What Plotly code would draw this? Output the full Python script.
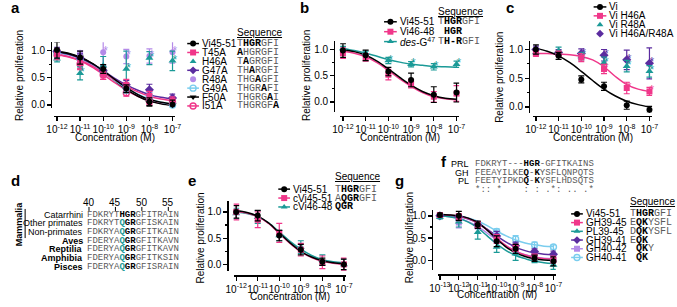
import re
import plotly.graph_objects as go

W, H = 677, 307
BLACK = '#000000'; PINK = '#F0378A'; TEAL = '#1B9A97'; PURPLE = '#5B2C9F'
LPURPLE = '#B48AE8'; LBLUE = '#7ACDEE'; GRAY = '#5a5a5a'
SANS = 'Arial, Liberation Sans, sans-serif'
MONO = 'Liberation Mono, DejaVu Sans Mono, monospace'

# ---------------- data ----------------
dec6 = [-12, -11, -10, -9, -8, -7]
fit6 = [-12, -11.5, -11, -10.5, -10, -9.5, -9, -8.5, -8, -7.5, -7]
dec7 = [-13, -12, -11, -10, -9, -8, -7]
fit7 = [-13, -12.5, -12, -11.5, -11, -10.5, -10, -9.5, -9, -8.5, -8, -7.5, -7]
xticks6 = ['10<sup>-12</sup>', '10<sup>-11</sup>', '10<sup>-10</sup>', '10<sup>-9</sup>', '10<sup>-8</sup>', '10<sup>-7</sup>']
xticks7 = ['10<sup>-13</sup>'] + xticks6

# panel a
a_names = ['Vi45-51', 'T45A', 'H46A', 'G47A', 'R48A', 'G49A', 'F50A', 'I51A']
a_seqs = ['T[HGR]GFI', '[A]HGRGFI', 'T[A]GRGFI', 'TH[A]RGFI', 'THG[A]GFI', 'THGR[A]FI', 'THGRG[A]I', 'THGRGF[A]']
a_vi = [1.01, 0.87, 0.66, 0.30, 0.06, 0.01]; a_vi_e = [0.15, 0.12, 0.08, 0.07, 0.07, 0.08]
a_t45 = [0.93, 0.77, 0.57, 0.37, 0.17, 0.08]; a_t45_e = [0.10, 0.12, 0.10, 0.10, 0.08, 0.07]
a_h46 = [0.85, 0.58, 0.72, 0.66, 0.86, 0.81]; a_h46_e = [0.06, 0.12, 0.17, 0.33, 0.12, 0.18]
a_g47 = [0.98, 0.86, 0.63, 0.37, 0.28, 0.13]; a_g47_e = [0.08, 0.08, 0.08, 0.08, 0.10, 0.07]
a_r48 = [0.96, 0.96, 0.97, 0.89, 0.90, 0.97]; a_r48_e = [0.08, 0.04, 0.24, 0.13, 0.13, 0.20]
a_g49 = [0.95, 0.84, 0.62, 0.30, 0.15, 0.00]; a_g49_e = [0.08, 0.08, 0.08, 0.08, 0.08, 0.10]
a_f50 = [0.98, 0.87, 0.63, 0.28, 0.04, 0.00]; a_f50_e = [0.06, 0.06, 0.06, 0.06, 0.06, 0.06]
a_i51 = [0.92, 0.75, 0.55, 0.22, 0.07, 0.05]; a_i51_e = [0.08, 0.08, 0.08, 0.06, 0.06, 0.06]
a_vi_fit = [0.98, 0.94, 0.87, 0.77, 0.63, 0.47, 0.32, 0.19, 0.10, 0.05, 0.02]
a_t45_fit = [0.93, 0.89, 0.82, 0.72, 0.59, 0.46, 0.34, 0.24, 0.16, 0.11, 0.08]
a_g47_fit = [0.97, 0.93, 0.86, 0.76, 0.63, 0.49, 0.37, 0.27, 0.19, 0.14, 0.11]
a_g49_fit = [0.96, 0.92, 0.85, 0.74, 0.60, 0.45, 0.31, 0.20, 0.11, 0.05, 0.01]
a_f50_fit = [0.98, 0.95, 0.88, 0.77, 0.62, 0.45, 0.29, 0.16, 0.07, 0.02, -0.01]
a_i51_fit = [0.92, 0.88, 0.81, 0.70, 0.56, 0.41, 0.27, 0.16, 0.08, 0.03, 0.00]
a_h46_sig = [-11, -9, -8, -7]
a_r48_sig = [-10, -9, -8, -7]

# panel b
b_names = ['Vi45-51', 'Vi46-48', '<i>des</i>-G<sup>47</sup>']
b_seqs = ['T[HGR]GFI', ' [HGR]', 'T[H-R]GFI']
b_vi = [0.98, 0.89, 0.58, 0.42, 0.14, 0.18]; b_vi_e = [0.13, 0.10, 0.08, 0.13, 0.15, 0.18]
b_46 = [0.93, 0.85, 0.52, 0.35, 0.10, 0.16]; b_46_e = [0.10, 0.07, 0.10, 0.08, 0.10, 0.15]
b_des = [1.02, 0.93, 0.79, 0.72, 0.67, 0.72]; b_des_e = [0.04, 0.04, 0.06, 0.05, 0.06, 0.06]
b_vi_fit = [0.99, 0.96, 0.89, 0.78, 0.63, 0.47, 0.32, 0.20, 0.12, 0.07, 0.05]
b_46_fit = [0.96, 0.93, 0.86, 0.75, 0.60, 0.44, 0.30, 0.18, 0.10, 0.06, 0.04]
b_des_fit = [1.02, 0.98, 0.93, 0.87, 0.81, 0.76, 0.72, 0.70, 0.68, 0.67, 0.66]
b_des_sig = [-10, -9, -8, -7]

# panel c
c_names = ['Vi', 'Vi H46A', 'Vi R48A', 'Vi H46A/R48A']
c_vi = [1.00, 0.89, 0.48, 0.36, 0.03, -0.05]; c_vi_e = [0.08, 0.06, 0.06, 0.07, 0.07, 0.06]
c_h46 = [0.93, 0.93, 0.86, 0.66, 0.33, 0.27]; c_h46_e = [0.05, 0.04, 0.07, 0.08, 0.10, 0.07]
c_r48 = [0.95, 0.98, 0.88, 0.77, 0.71, 0.62]; c_r48_e = [0.05, 0.06, 0.06, 0.10, 0.10, 0.10]
c_dbl = [1.00, 0.95, 0.93, 0.90, 0.82, 0.76]; c_dbl_e = [0.06, 0.05, 0.08, 0.10, 0.17, 0.27]
c_vi_fit = [1.02, 0.97, 0.89, 0.77, 0.62, 0.46, 0.31, 0.19, 0.10, 0.04, 0.00]
c_h46_fit = [0.93, 0.93, 0.92, 0.91, 0.88, 0.82, 0.70, 0.53, 0.39, 0.31, 0.27]
c_sig = [-10, -9, -8, -7]

# panel d
d_names = ['Catarrhini', 'Other primates', 'Non-primates', '<b>Aves</b>', '<b>Reptilia</b>', '<b>Amphibia</b>', '<b>Pisces</b>']
d_seqs = ['FDKRYT[HGR]GFITRAIN', 'FDKRYT{Q}[GR]GFISKAIN', 'FDKRYA{Q}[GR]GFITKAIN', 'FDERYA{Q}[GR]GFITKAVN',
          'FDERYA{Q}[GR]GFITKAVN', 'FDERYA{Q}[GR]GFITKSIN', 'FDERYA{Q}[GR]GFISRAIN']
d_ruler = [40, 45, 50, 55]
d_first_residue = 40

# panel e
e_names = ['Vi45-51', 'cVi45-51', 'cVi46-48']
e_seqs = ['T[HGR]GFI', 'A[QGR]GFI', '[QGR]']
e_vi = [1.00, 0.93, 0.55, 0.28, 0.05, 0.00]; e_vi_e = [0.12, 0.10, 0.10, 0.10, 0.07, 0.10]
e_cvi = [1.00, 0.85, 0.60, 0.28, 0.04, 0.00]; e_cvi_e = [0.15, 0.15, 0.18, 0.12, 0.12, 0.12]
e_c46 = [0.97, 0.90, 0.55, 0.33, 0.08, 0.00]; e_c46_e = [0.10, 0.12, 0.10, 0.12, 0.10, 0.10]
e_vi_fit = [1.02, 0.99, 0.92, 0.79, 0.60, 0.41, 0.25, 0.14, 0.07, 0.03, 0.01]
e_cvi_fit = [1.01, 0.98, 0.91, 0.78, 0.59, 0.40, 0.24, 0.13, 0.06, 0.02, 0.00]
e_c46_fit = [1.00, 0.97, 0.91, 0.79, 0.62, 0.44, 0.29, 0.17, 0.09, 0.05, 0.03]

# panel f
f_names = ['PRL', 'GH', 'PL']
f_seqs = ['FDKRYT---[HGR]-GFITKAINS', 'FEEAYILKE[Q]-[K]YSFLQNPQTS', 'FEETYIPKD[Q]-[K]YSFLHDSQTS']
f_cons = '*:: *    : : .*: .. .*'

# panel g
g_names = ['Vi45-51', 'GH39-45', 'PL39-45', 'GH39-41', 'GH40-42', 'GH40-41']
g_seqs = ['T[HGR]GFI', 'E[QK]YSFL', 'D[QK]YSFL', 'E[QK]', ' [QK]Y', ' [QK]']
g_vi = [1.02, 1.00, 0.80, 0.43, 0.26, 0.05, -0.02]; g_vi_e = [0.04, 0.10, 0.08, 0.12, 0.10, 0.07, 0.10]
g_gh3945 = [1.02, 0.97, 0.80, 0.48, 0.28, 0.08, 0.02]; g_gh3945_e = [0.03, 0.08, 0.07, 0.10, 0.08, 0.06, 0.08]
g_pl = [0.97, 0.87, 0.63, 0.30, 0.15, 0.03, -0.10]; g_pl_e = [0.04, 0.12, 0.15, 0.12, 0.15, 0.08, 0.10]
g_gh3941 = [1.00, 0.98, 0.80, 0.55, 0.33, 0.20, 0.14]; g_gh3941_e = [0.03, 0.05, 0.06, 0.10, 0.08, 0.06, 0.07]
g_gh4042 = [1.00, 0.85, 0.77, 0.50, 0.27, 0.12, 0.02]; g_gh4042_e = [0.05, 0.12, 0.06, 0.10, 0.10, 0.06, 0.07]
g_gh4041 = [1.00, 0.93, 0.80, 0.65, 0.48, 0.35, 0.30]; g_gh4041_e = [0.03, 0.05, 0.05, 0.06, 0.08, 0.06, 0.05]
g_vi_fit = [1.03, 1.02, 1.00, 0.95, 0.85, 0.68, 0.48, 0.30, 0.17, 0.09, 0.04, 0.01, 0.00]
g_gh3945_fit = [1.03, 1.02, 0.99, 0.94, 0.84, 0.68, 0.50, 0.33, 0.20, 0.12, 0.07, 0.04, 0.03]
g_pl_fit = [1.00, 0.98, 0.94, 0.86, 0.73, 0.55, 0.37, 0.22, 0.11, 0.04, -0.02, -0.05, -0.07]
g_gh3941_fit = [1.02, 1.01, 0.98, 0.93, 0.84, 0.70, 0.55, 0.41, 0.30, 0.22, 0.17, 0.14, 0.13]
g_gh4042_fit = [1.00, 0.98, 0.94, 0.87, 0.76, 0.61, 0.46, 0.32, 0.21, 0.13, 0.08, 0.05, 0.04]
g_gh4041_fit = [1.02, 1.01, 0.99, 0.95, 0.88, 0.78, 0.66, 0.55, 0.46, 0.39, 0.35, 0.32, 0.31]

# ---------------- helpers ----------------
def PX(x):
    return x / W


def PY(y):
    return 1 - y / H


fig = go.Figure()
annotations = []
shapes = []
layout_axes = {}


def seq_html(s):
    out = []
    for m in re.finditer(r'\[([^\]]*)\]|\{([^}]*)\}|([^\[\{]+)', s):
        b, t, n = m.groups()
        if b is not None:
            out.append('<b>' + b.replace(' ', '\u00a0') + '</b>')
        elif t is not None:
            out.append('<span style="color:%s"><b>%s</b></span>' % (TEAL, t))
        else:
            out.append('<span style="color:%s">%s</span>' % (GRAY, n.replace(' ', '\u00a0')))
    return ''.join(out)


def ann(text, x, y, size=10, xanchor='left', yanchor='middle', family=SANS, color=BLACK, angle=0, **kw):
    font = dict(size=size, family=family, color=color)
    font.update(kw.pop('font_extra', {}))
    annotations.append(dict(text=text, x=PX(x), y=PY(y), xref='paper', yref='paper', showarrow=False,
                            xanchor=xanchor, yanchor=yanchor, font=font, textangle=angle,
                            borderpad=0, **kw))


def panel(n, xlo, xhi, xfirst, xlast, y0, y1, yax, xax, yr, ticktext):
    ppd = (xlast - xfirst) / (xhi - xlo)
    pad = 0.12
    ppu = y0 - y1
    ybot = y0 - yr[0] * ppu
    ytop = y0 - yr[1] * ppu
    common = dict(showline=True, linecolor=BLACK, linewidth=1.3, ticks='outside', tickcolor=BLACK,
                  tickwidth=1.3, ticklen=4, showgrid=False, zeroline=False,
                  tickfont=dict(size=10, family=SANS, color=BLACK), anchor='free', tickangle=0)
    layout_axes['xaxis%d' % n] = dict(common, domain=[PX(xfirst - pad * ppd), PX(xlast + pad * ppd)],
                                      range=[xlo - pad, xhi + pad], position=PY(xax),
                                      tickvals=list(range(xlo, xhi + 1)), ticktext=ticktext)
    layout_axes['yaxis%d' % n] = dict(common, domain=[PY(ybot), PY(ytop)], range=yr, position=PX(yax),
                                      tickvals=[0, 0.5, 1.0], ticktext=['0.0', '0.5', '1.0'],
                                      minor=dict(tickvals=[0.25, 0.75], ticklen=2, ticks='outside',
                                                 tickcolor=BLACK, tickwidth=1.2))


def series(n, x, y, err, color, symbol, size=6):
    open_ = symbol.endswith('-open')
    fig.add_trace(go.Scatter(x=x, y=y, xaxis='x%d' % n, yaxis='y%d' % n, mode='markers', cliponaxis=False,
                             marker=dict(symbol=symbol, size=size, color=color,
                                         line=dict(width=1.4 if open_ else 0, color=color)),
                             error_y=dict(type='data', array=err, color=color, thickness=1.2, width=3),
                             showlegend=False))


def curve(n, x, y, color):
    fig.add_trace(go.Scatter(x=x, y=y, xaxis='x%d' % n, yaxis='y%d' % n, mode='lines',
                             line=dict(color=color, width=1.5, shape='spline', smoothing=1.0),
                             showlegend=False, hoverinfo='skip'))


def stars(n, xs, xall, yall, color):
    yy = [yall[xall.index(v)] for v in xs]
    fig.add_trace(go.Scatter(x=xs, y=yy, xaxis='x%d' % n, yaxis='y%d' % n, mode='text', text=['*'] * len(xs),
                             textposition='middle right', cliponaxis=False,
                             textfont=dict(size=12, color=color, family=SANS), showlegend=False))


OV = 9  # overlay axis in pixel units for legend glyphs
layout_axes['xaxis%d' % OV] = dict(domain=[0, 1], range=[0, W], visible=False, fixedrange=True)
layout_axes['yaxis%d' % OV] = dict(domain=[0, 1], range=[H, 0], visible=False, fixedrange=True)


def glyph(xl, xr, y, color, symbol, line=True, size=6):
    if line:
        fig.add_trace(go.Scatter(x=[xl, xr], y=[y, y], xaxis='x%d' % OV, yaxis='y%d' % OV, mode='lines',
                                 line=dict(color=color, width=1.5), showlegend=False, hoverinfo='skip'))
    open_ = symbol.endswith('-open')
    fig.add_trace(go.Scatter(x=[(xl + xr) / 2], y=[y], xaxis='x%d' % OV, yaxis='y%d' % OV, mode='markers',
                             marker=dict(symbol=symbol, size=size, color=color,
                                         line=dict(width=1.4 if open_ else 0, color=color)),
                             showlegend=False, hoverinfo='skip'))


def legend_block(names, seqs, styles, rows, gx0, gx1, tx, sx, head_y, size=10, mono=10):
    for i, nm in enumerate(names):
        color, symbol, hasline = styles[i]
        glyph(gx0, gx1, rows[i], color, symbol, hasline)
        ann(nm, tx, rows[i], size=size)
        if seqs is not None:
            ann(seq_html(seqs[i]), sx, rows[i], size=mono, family=MONO)
    if seqs is not None:
        ann('Sequence', sx, head_y, size=10, font_extra=dict(lineposition='under'))


def ytitle(x, y):
    ann('Relative proliferation', x, y, size=10, xanchor='center', angle=-90)


def xtitle(x, y):
    ann('Concentration (M)', x, y, size=10, xanchor='center')


# ---------------- panel a ----------------
panel(1, -12, -7, 50, 168, 106, 51, 44, 117, [-0.05, 1.15], xticks6)
a_style = [(BLACK, 'circle', True), (PINK, 'square', True), (TEAL, 'triangle-up', False),
           (PURPLE, 'diamond', True), (LPURPLE, 'circle', False), (LBLUE, 'circle-open', True),
           (BLACK, 'triangle-down', True), (PINK, 'circle-open', True)]
for yf, c in [(a_i51_fit, PINK), (a_f50_fit, BLACK), (a_g49_fit, LBLUE), (a_g47_fit, PURPLE),
              (a_t45_fit, PINK), (a_vi_fit, BLACK)]:
    curve(1, fit6, yf, c)
a_data = [(a_vi, a_vi_e), (a_t45, a_t45_e), (a_h46, a_h46_e), (a_g47, a_g47_e), (a_r48, a_r48_e),
          (a_g49, a_g49_e), (a_f50, a_f50_e), (a_i51, a_i51_e)]
for i in reversed(range(len(a_data))):
    series(1, dec6, a_data[i][0], a_data[i][1], a_style[i][0], a_style[i][1],
           7 if 'triangle' in a_style[i][1] or 'diamond' in a_style[i][1] else 6)
stars(1, a_h46_sig, dec6, a_h46, TEAL)
stars(1, a_r48_sig, dec6, a_r48, LPURPLE)
legend_block(a_names, a_seqs, a_style, [44 + 9 * i for i in range(8)], 183, 195, 197, 233, 33)
ytitle(12, 76)
xtitle(109, 139)
ann('<b>a</b>', 2, 8, size=15)

# ---------------- panel b ----------------
panel(2, -12, -7, 342, 458, 103, 50, 333, 117, [-0.2, 1.17], xticks6)
b_style = [(BLACK, 'circle', True), (PINK, 'square', True), (TEAL, 'triangle-up', True)]
for yf, c in [(b_des_fit, TEAL), (b_46_fit, PINK), (b_vi_fit, BLACK)]:
    curve(2, fit6, yf, c)
b_data = [(b_vi, b_vi_e), (b_46, b_46_e), (b_des, b_des_e)]
for i in reversed(range(3)):
    series(2, dec6, b_data[i][0], b_data[i][1], b_style[i][0], b_style[i][1],
           7 if 'triangle' in b_style[i][1] else 6)
stars(2, b_des_sig, dec6, b_des, TEAL)
legend_block(b_names, b_seqs, b_style, [22, 32, 42], 384, 397, 399, 438, 12)
ytitle(305, 76)
xtitle(400, 139)
ann('<b>b</b>', 297, 8, size=15)

# ---------------- panel c ----------------
panel(3, -12, -7, 539, 655, 108, 50, 532, 117, [-0.1, 1.15], xticks6)
c_style = [(BLACK, 'circle', True), (PINK, 'square', True), (TEAL, 'triangle-up', False),
           (PURPLE, 'diamond', False)]
curve(3, fit6, c_h46_fit, PINK)
curve(3, fit6, c_vi_fit, BLACK)
c_data = [(c_vi, c_vi_e), (c_h46, c_h46_e), (c_r48, c_r48_e), (c_dbl, c_dbl_e)]
for i in reversed(range(4)):
    series(3, dec6, c_data[i][0], c_data[i][1], c_style[i][0], c_style[i][1],
           7 if 'triangle' in c_style[i][1] or 'diamond' in c_style[i][1] else 6)
stars(3, c_sig, dec6, c_h46, PINK)
stars(3, c_sig, dec6, c_r48, TEAL)
stars(3, c_sig, dec6, c_dbl, PURPLE)
legend_block(c_names, None, c_style, [7, 16, 25, 34], 598, 611, 613, 0, 0)
ytitle(502, 78)
xtitle(597, 139)
ann('<b>c</b>', 507, 8, size=15)

# ---------------- panel d ----------------
ann('<b>d</b>', 2, 182, size=15)
d_x0 = 80
d_cw = 5.4
d_rows = [217 + 8.7 * i for i in range(7)]
for i, nm in enumerate(d_names):
    ann(nm, 78, d_rows[i], size=9, xanchor='right')
    ann(seq_html(d_seqs[i]), d_x0, d_rows[i], size=9, family=MONO)
for r in d_ruler:
    cx = d_x0 + (r - d_first_residue + 0.5) * d_cw
    ann(str(r), cx, 204, size=10, xanchor='center')
    shapes.append(dict(type='line', xref='paper', yref='paper', x0=PX(cx), x1=PX(cx), y0=PY(209), y1=PY(213),
                       line=dict(color=BLACK, width=1)))
ann('<b>Mammalia</b>', 12, (d_rows[0] + d_rows[2]) / 2, size=9, xanchor='center', angle=-90)
shapes.append(dict(type='line', xref='paper', yref='paper', x0=PX(17.5), x1=PX(17.5), y0=PY(d_rows[0] - 6),
                   y1=PY(d_rows[2] + 6), line=dict(color=BLACK, width=1)))

# ---------------- panel e ----------------
panel(4, -12, -7, 233, 343, 267, 214, 224, 278, [-0.12, 1.2], xticks6)
e_style = [(BLACK, 'circle', True), (PINK, 'square', True), (TEAL, 'triangle-up', True)]
for yf, c in [(e_c46_fit, TEAL), (e_cvi_fit, PINK), (e_vi_fit, BLACK)]:
    curve(4, fit6, yf, c)
e_data = [(e_vi, e_vi_e), (e_cvi, e_cvi_e), (e_c46, e_c46_e)]
for i in reversed(range(3)):
    series(4, dec6, e_data[i][0], e_data[i][1], e_style[i][0], e_style[i][1],
           7 if 'triangle' in e_style[i][1] else 6)
legend_block(e_names, e_seqs, e_style, [191, 200, 209], 276, 288, 290, 333, 178)
ytitle(197, 240)
xtitle(288, 299)
ann('<b>e</b>', 183, 182, size=15)

# ---------------- panel f ----------------
ann('<b>f</b>', 441, 163, size=15)
f_rows = [166, 174.5, 183]
for i, nm in enumerate(f_names):
    ann(nm, 472, f_rows[i], size=9, xanchor='right')
    ann(seq_html(f_seqs[i]), 476, f_rows[i], size=9, family=MONO)
ann(seq_html(f_cons), 476, 191.5, size=9, family=MONO)

# ---------------- panel g ----------------
panel(5, -13, -7, 441, 557, 263, 218, 433, 277, [-0.22, 1.13], xticks7)
g_style = [(BLACK, 'circle', True), (PINK, 'square', True), (TEAL, 'triangle-up', True),
           (PURPLE, 'diamond', True), (LPURPLE, 'square', True), (LBLUE, 'circle-open', True)]
for yf, c in [(g_gh4041_fit, LBLUE), (g_gh4042_fit, LPURPLE), (g_gh3941_fit, PURPLE), (g_pl_fit, TEAL),
              (g_gh3945_fit, PINK), (g_vi_fit, BLACK)]:
    curve(5, fit7, yf, c)
g_data = [(g_vi, g_vi_e), (g_gh3945, g_gh3945_e), (g_pl, g_pl_e), (g_gh3941, g_gh3941_e),
          (g_gh4042, g_gh4042_e), (g_gh4041, g_gh4041_e)]
for i in reversed(range(6)):
    series(5, dec7, g_data[i][0], g_data[i][1], g_style[i][0], g_style[i][1],
           7 if 'triangle' in g_style[i][1] or 'diamond' in g_style[i][1] else 6)
legend_block(g_names, g_seqs, g_style, [216 + 8.8 * i for i in range(6)], 575, 587, 589, 634, 203)
ytitle(410, 240)
xtitle(499, 297)
ann('<b>g</b>', 394, 182, size=15)

fig.update_layout(width=W, height=H, margin=dict(l=0, r=0, t=0, b=0), paper_bgcolor='white',
                  plot_bgcolor='rgba(0,0,0,0)', showlegend=False, annotations=annotations, shapes=shapes,
                  font=dict(family=SANS, color=BLACK), hovermode=False, **layout_axes)
fig.write_html('out.html', config={'displayModeBar': False, 'staticPlot': True},
               post_script="document.body.style.margin='0';document.body.style.overflow='hidden';")
